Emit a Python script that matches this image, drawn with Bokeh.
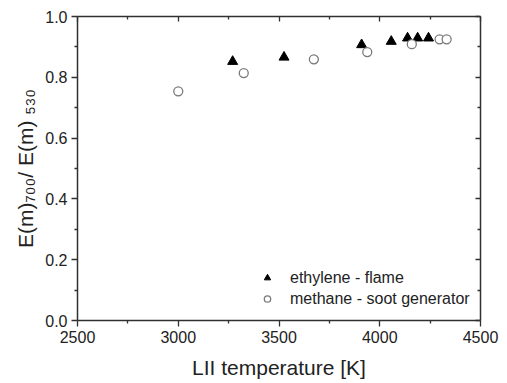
from bokeh.plotting import figure
from bokeh.models import (FixedTicker, PrintfTickFormatter, LinearAxis,
                          Range1d, Legend, LegendItem, CustomLabelingPolicy)
from bokeh.embed import file_html
from bokeh.resources import INLINE

# ---- data ----
ethylene_T = [3270, 3525, 3910, 4057, 4138, 4188, 4242]
ethylene_E = [0.852, 0.866, 0.907, 0.918, 0.929, 0.929, 0.929]
methane_T = [3000, 3325, 3673, 3938, 4159, 4297, 4332]
methane_E = [0.754, 0.814, 0.859, 0.883, 0.909, 0.925, 0.925]

x_ticks = [2500, 3000, 3500, 4000, 4500]
x_minor = [2750, 3250, 3750, 4250]
y_ticks = [0.0, 0.2, 0.4, 0.6, 0.8, 1.0]
y_minor = [0.1, 0.3, 0.5, 0.7, 0.9]

x_title = "LII temperature [K]"
y_title = "E(m)\u2087\u2080\u2080/ E(m) \u2085\u2083\u2080"
series_names = ["ethylene - flame", "methane - soot generator"]

FONT = "Liberation Sans"
AX = "#303030"
TXT = "#222222"

p = figure(width=505, height=383, output_backend="svg", toolbar_location=None,
           x_range=Range1d(2500, 4500), y_range=Range1d(0, 1.0),
           min_border_left=77, min_border_right=15, min_border_top=16,
           min_border_bottom=63)
p.grid.visible = False
p.outline_line_color = None
p.background_fill_color = "white"
p.border_fill_color = "white"

hide_labels = CustomLabelingPolicy(code="""
    const all = [...indices]
    for (const i of all) indices.unset(i)
    return indices
""")

def style_axis(ax, ticks, minor, labels=True, inside=False):
    ax.ticker = FixedTicker(ticks=ticks, minor_ticks=minor)
    ax.axis_line_color = AX
    ax.axis_line_width = 1.5
    ax.major_tick_line_color = AX
    ax.minor_tick_line_color = AX
    ax.major_tick_line_width = 1.3
    ax.minor_tick_line_width = 1.3
    if inside:
        ax.major_tick_in = 5
        ax.major_tick_out = 0
        ax.minor_tick_in = 3
        ax.minor_tick_out = 0
    else:
        ax.major_tick_in = 0
        ax.major_tick_out = 6
        ax.minor_tick_in = 0
        ax.minor_tick_out = 3
    ax.major_label_text_font = FONT
    ax.major_label_text_font_size = "16px"
    ax.major_label_text_color = TXT
    ax.major_label_standoff = 4
    ax.axis_label_text_font = FONT
    ax.axis_label_text_font_size = "21px"
    ax.axis_label_text_font_style = "normal"
    ax.axis_label_text_color = TXT
    if not labels:
        ax.major_label_policy = hide_labels
        ax.major_label_standoff = 0
        ax.axis_label = None

style_axis(p.xaxis[0], x_ticks, x_minor)
style_axis(p.yaxis[0], y_ticks, y_minor)
p.yaxis[0].formatter = PrintfTickFormatter(format="%.1f")
p.xaxis[0].axis_label = x_title
p.xaxis[0].axis_label_standoff = 10
p.yaxis[0].axis_label = y_title
p.yaxis[0].axis_label_standoff = 5

top = LinearAxis()
style_axis(top, x_ticks, x_minor, labels=False, inside=True)
right = LinearAxis()
style_axis(right, y_ticks, y_minor, labels=False, inside=True)
p.add_layout(top, "above")
p.add_layout(right, "right")

r1 = p.scatter(ethylene_T, ethylene_E, marker="triangle", size=10,
               fill_color="black", line_color="black", line_width=1)
r2 = p.scatter(methane_T, methane_E, marker="circle", size=9,
               fill_color="white", line_color="#7a7a7a", line_width=1.3)

legend = Legend(items=[LegendItem(label=series_names[0], renderers=[r1]),
                       LegendItem(label=series_names[1], renderers=[r2])],
                location=(182, 11), padding=0, margin=0, spacing=0,
                glyph_width=16, glyph_height=21, label_height=21,
                label_standoff=15, border_line_color=None,
                background_fill_alpha=0,
                label_text_font=FONT, label_text_font_size="16px",
                label_text_color=TXT)
p.add_layout(legend, "center")

open("out.html", "w").write(file_html(p, INLINE))
